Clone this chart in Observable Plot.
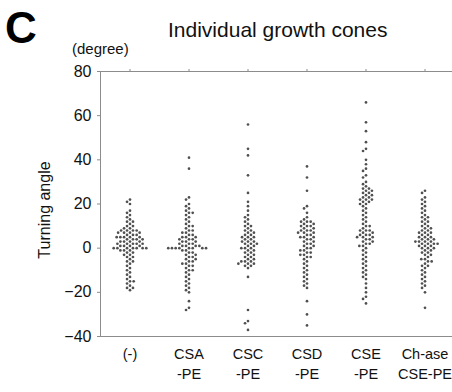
<!DOCTYPE html>
<html>
<head>
<meta charset="utf-8">
<script src="https://cdn.jsdelivr.net/npm/d3@7"></script>
<script src="https://cdn.jsdelivr.net/npm/@observablehq/plot@0.6"></script>
<style>
  body { margin: 0; background: #fff; }
  #wrap { position: relative; width: 452px; height: 392px; font-family: "Liberation Sans", Arial, sans-serif; color: #111; }
  #wrap svg { position: absolute; left: 0; top: 0; }
  .txt { position: absolute; line-height: 1; white-space: nowrap; }
  #letter { left: 5px; top: 6px; font-size: 44px; font-weight: bold; color: #000; }
  #title { left: 168px; top: 19px; font-size: 21px; }
  #unit { left: 72px; top: 41px; font-size: 15px; }
  #ylabel { left: 45px; top: 210px; font-size: 16px; transform: translate(-50%, -50%) rotate(-90deg); }
</style>
</head>
<body>
<div id="wrap">
  <div class="txt" id="letter">C</div>
  <div class="txt" id="title">Individual growth cones</div>
  <div class="txt" id="unit">(degree)</div>
  <div class="txt" id="ylabel">Turning angle</div>
</div>
<script>
// Conditions along the x axis and their two-line labels
const groups = ["(-)", "CSA-PE", "CSC-PE", "CSD-PE", "CSE-PE", "Ch-ase CSE-PE"];
const groupLabels = ["(-)", "CSA\n-PE", "CSC\n-PE", "CSD\n-PE", "CSE\n-PE", "Ch-ase\nCSE-PE"];
const yTicks = [-40, -20, 0, 20, 40, 60, 80];

// Turning angle (degrees) of each individual growth cone
const control = [22, 21, 20, 17, 16, 15, 14, 13, 12, 12, 11, 10, 10, 9, 9, 8, 8, 8, 8, 7, 7, 7, 7, 6, 6, 6, 5, 5, 5, 5, 5, 4, 4, 4, 4, 3, 3, 3, 3, 2, 2, 2, 2, 2, 1, 1, 1, 1, 0, 0, 0, 0, 0, 0, 0, -1, -1, -1, -2, -2, -3, -3, -4, -4, -5, -6, -6, -7, -8, -9, -10, -11, -12, -13, -14, -15, -15, -16, -17, -18, -18, -19];
const csaPE = [41, 36, 23, 22, 20, 19, 18, 17, 16, 16, 15, 14, 13, 12, 11, 10, 10, 9, 8, 8, 7, 7, 6, 6, 5, 5, 5, 4, 4, 4, 3, 3, 3, 2, 2, 2, 1, 1, 1, 1, 0, 0, 0, 0, 0, 0, 0, 0, -1, -1, -2, -2, -3, -3, -4, -4, -5, -5, -6, -6, -7, -7, -8, -8, -9, -10, -10, -11, -12, -13, -14, -15, -16, -17, -18, -19, -20, -24, -27, -28];
const cscPE = [56, 45, 42, 33, 25, 21, 19, 17, 15, 14, 13, 12, 11, 10, 10, 9, 8, 8, 7, 7, 6, 6, 5, 5, 5, 4, 4, 3, 3, 3, 2, 2, 2, 1, 1, 0, 0, 0, -1, -1, -2, -2, -3, -3, -4, -4, -5, -5, -6, -6, -6, -7, -7, -7, -8, -8, -9, -13, -28, -33, -34, -37];
const csdPE = [37, 32, 26, 19, 18, 16, 14, 13, 12, 12, 12, 11, 11, 10, 10, 10, 9, 9, 8, 8, 8, 7, 7, 7, 6, 6, 5, 5, 5, 4, 4, 3, 3, 2, 2, 1, 1, 0, 0, -1, -1, -2, -2, -3, -3, -4, -4, -5, -6, -7, -8, -9, -10, -11, -12, -13, -14, -15, -16, -17, -18, -24, -30, -35];
const csePE = [66, 57, 53, 48, 45, 44, 40, 38, 36, 35, 33, 32, 30, 29, 28, 27, 27, 26, 26, 25, 25, 24, 24, 23, 23, 22, 22, 22, 21, 21, 20, 20, 19, 18, 17, 16, 15, 14, 13, 12, 11, 10, 10, 9, 8, 8, 8, 7, 7, 6, 6, 6, 5, 5, 5, 4, 4, 3, 3, 2, 2, 1, 1, 0, -1, -2, -3, -4, -5, -6, -7, -8, -9, -10, -11, -12, -13, -14, -16, -18, -20, -22, -23, -25];
const chaseCsePE = [26, 25, 23, 22, 21, 20, 19, 18, 17, 16, 15, 14, 14, 13, 12, 12, 11, 10, 10, 9, 9, 8, 8, 7, 7, 7, 6, 6, 5, 5, 5, 4, 4, 4, 3, 3, 3, 3, 2, 2, 2, 2, 1, 1, 1, 0, 0, 0, -1, -1, -2, -2, -3, -3, -4, -5, -5, -6, -6, -7, -8, -8, -9, -10, -11, -12, -13, -14, -15, -16, -17, -18, -20, -27];

const series = [control, csaPE, cscPE, csdPE, csePE, chaseCsePE];
const cones = groups.flatMap((g, i) => series[i].map(angle => ({group: g, angle})));

const chart = Plot.plot({
  width: 452,
  height: 392,
  marginTop: 71,
  marginBottom: 56,
  marginLeft: 97,
  marginRight: 4,
  style: {fontFamily: "'Liberation Sans', Arial, sans-serif", background: "transparent", color: "#111"},
  y: {domain: [-40, 80]},
  fx: {domain: groups, range: [98, 455], padding: 0},
  marks: [
    Plot.frame({facet: "super", stroke: "#8c8c8c"}),
    Plot.axisY({ticks: yTicks, tickSize: 3, tickPadding: 6, fontSize: 16, stroke: "#8c8c8c", fill: "#111", label: null}),
    Plot.axisFx({anchor: "top", tickSize: 3, tickFormat: () => "", label: null, stroke: "#8c8c8c"}),
    Plot.axisFx({
      anchor: "bottom", tickSize: 0, tickPadding: 9, fontSize: 14.5, lineHeight: 1.35,
      tickFormat: g => groupLabels[groups.indexOf(g)], label: null, fill: "#111"
    }),
    Plot.dot(cones, Plot.dodgeX("middle", {fx: "group", y: "angle", r: 1.35, padding: 0.1, fill: "#505050"}))
  ]
});

document.getElementById("wrap").prepend(chart);
</script>
</body>
</html>
